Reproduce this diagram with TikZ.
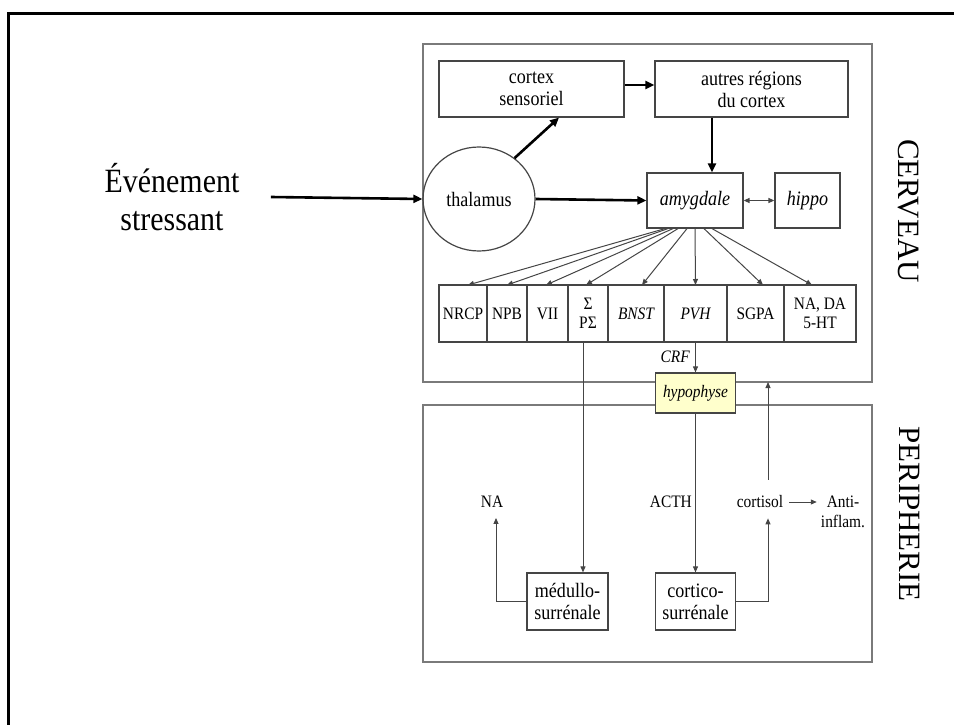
\documentclass[tikz,border=0pt]{standalone}
\usepackage{fontspec}
\setmainfont{Liberation Serif}
\newfontfamily\narrowserif{Liberation Serif}[FakeStretch=0.88]
\usetikzlibrary{positioning,arrows.meta,shapes.geometric}
\definecolor{framegray}{HTML}{7A7A7A}
\definecolor{boxgray}{HTML}{454545}
\definecolor{hypoyellow}{HTML}{FFFFCC}

\begin{document}
\begin{tikzpicture}[x=1pt, y=-1pt,
    main/.style={draw=boxgray, line width=1.2pt, align=center, inner sep=1pt, font=\narrowserif\fontsize{20.5}{22}\selectfont},
    cell/.style={draw=boxgray, line width=1.2pt, align=center, inner sep=0pt, outer sep=0pt, minimum height=57pt, font=\narrowserif\fontsize{17.5}{19}\selectfont},
    lbl/.style={align=center, inner sep=0pt, font=\narrowserif\fontsize{17.5}{20}\selectfont},
    zone/.style={draw=framegray, line width=1.3pt},
    bold/.style={-{Triangle[length=9pt,width=8pt]}, line width=2.6pt},
    fine/.style={-{Triangle[length=6pt,width=5pt]}, draw=boxgray, line width=1pt}]
  \useasboundingbox (0,0) rectangle (954,725);
  % outer frame (only top and left are shown)
  \draw[line width=3pt] (8,725) -- (8,14) -- (954,14);

  % zones
  \draw[zone] (423,44) rectangle (872,382);
  \draw[zone] (423,405) rectangle (872,662);
  \node[rotate=-90, font=\fontsize{31}{32}\selectfont] (cerv) at (909,211) {CERVEAU};
  \node[rotate=-90, font=\fontsize{31}{32}\selectfont] (peri) at (910,514) {PERIPHERIE};

  \node[align=center, font=\narrowserif\fontsize{34}{38}\selectfont] (ev) at (172,197) {Événement\\stressant};

  % brain
  \node[main, minimum width=185pt, minimum height=56pt] (cs) at (531.5,89) {cortex\\sensoriel};
  \node[main, minimum width=193pt, minimum height=56pt] (ar) at (751.5,89) {autres régions\\du cortex};
  \node[draw=boxgray, line width=1.2pt, ellipse, minimum width=112pt, minimum height=104pt, inner sep=0pt,
        font=\narrowserif\fontsize{20.5}{22}\selectfont] (thal) at (479,199) {thalamus};
  \node[main, minimum width=96pt, minimum height=55pt] (amyg) at (695,200.5) {\itshape amygdale};
  \node[main, minimum width=65pt, minimum height=55pt] (hipp) at (807.5,200.5) {\itshape hippo};

  \node[cell, minimum width=48pt] (nrcp) at (463,313.5) {NRCP};
  \node[cell, minimum width=40pt, right=0pt of nrcp] (npb) {NPB};
  \node[cell, minimum width=41pt, right=0pt of npb] (vii) {VII};
  \node[cell, minimum width=40pt, right=0pt of vii] (sig) {Σ\\PΣ};
  \node[cell, minimum width=56pt, right=0pt of sig] (bnst) {\itshape BNST};
  \node[cell, minimum width=63pt, right=0pt of bnst] (pvh) {\itshape PVH};
  \node[cell, minimum width=57pt, right=0pt of pvh] (sgpa) {SGPA};
  \node[cell, minimum width=72pt, right=0pt of sgpa] (mono) {NA, DA\\5-HT};

  \node[draw=boxgray, line width=1.2pt, fill=hypoyellow, minimum width=80pt, minimum height=40pt, inner sep=0pt,
        font=\narrowserif\fontsize{17.5}{19}\selectfont] (hyp) at (695.5,393) {\itshape hypophyse};
  \node[lbl, anchor=east] (crf) at (690,357) {\itshape CRF};

  % periphery
  \node[main, minimum width=81pt, minimum height=57pt] (med) at (567.5,601.5) {médullo-\\surrénale};
  \node[main, minimum width=80pt, minimum height=57pt] (cort) at (695.5,601.5) {cortico-\\surrénale};
  \node[lbl] (na) at (492,502) {NA};
  \node[lbl, anchor=east] (acth) at (692,502) {ACTH};
  \node[lbl] (cortisol) at (760,502) {cortisol};
  \node[lbl] (anti) at (843,512) {Anti-\\inflam.};
  \coordinate (sx) at (583,0);
  \coordinate (cx) at (768,0);
  \coordinate (cerv bottom) at (0,382);

  \draw[bold] ([xshift=28pt]ev.east) -- (thal.west);
  \draw[bold] (thal.49) -- ([xshift=27.5pt]cs.south);
  \draw[bold] ([yshift=4pt]cs.east) -- ([yshift=4pt]ar.west);
  \draw[bold] ([xshift=17pt]ar.south -| amyg.north) -- ([xshift=17pt]amyg.north);
  \draw[bold] (thal.east) -- (amyg.west);
  \draw[fine, line width=1.3pt, {Triangle[length=6pt,width=5pt]}-{Triangle[length=6pt,width=5pt]}] (amyg.east) -- (hipp.west);

  \draw[fine] ([xshift=-30pt]amyg.south) -- ([xshift=5pt]nrcp.north);
  \draw[fine] ([xshift=-27pt]amyg.south) -- (npb.north);
  \draw[fine] ([xshift=-22pt]amyg.south) -- ([xshift=-1.5pt]vii.north);
  \draw[fine] ([xshift=-17pt]amyg.south) -- ([xshift=-2pt]sig.north);
  \draw[fine] ([xshift=-8pt]amyg.south) -- ([xshift=6pt]bnst.north);
  \draw[fine] (amyg.south) -- (pvh.north);
  \draw[fine] ([xshift=9pt]amyg.south) -- ([xshift=7.5pt]sgpa.north);
  \draw[fine] ([xshift=17pt]amyg.south) -- ([xshift=-8pt]mono.north);

  \draw[fine] (pvh.south) -- (hyp.north);
  \draw[fine] (hyp.south) -- (cort.north);
  \draw[fine] (sig.south -| sx) -- (med.north -| sx);
  \draw[fine] (med.west) -| ([xshift=4pt,yshift=-10pt]na.south);
  \draw[fine] (cort.east) -| ([yshift=-10pt]cortisol.south -| cx);
  \draw[fine] ([yshift=16pt]cortisol.north -| cx) -- (cerv bottom -| cx);
  \draw[fine] ([xshift=6pt]cortisol.east) -- ([xshift=-4pt]anti.west |- cortisol.east);
\end{tikzpicture}
\end{document}
